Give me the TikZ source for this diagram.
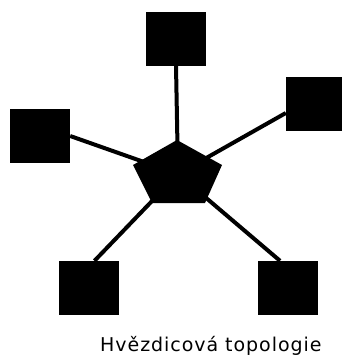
\documentclass[tikz,border=0pt]{standalone}
\usepackage{fontspec}
\setsansfont{DejaVu Sans}
\begin{document}
\begin{tikzpicture}[
    x=1pt, y=-1pt,
    station/.style={fill=black, minimum width=60pt, minimum height=54pt, inner sep=0pt},
    link/.style={line width=4pt},
    every node/.style={font=\sffamily}
]
\useasboundingbox (0,0) rectangle (341,356);

% Hub
\coordinate (hub) at (178,174);

% Stations
\node[station] (top) at (176,38.5) {};
\node[station] (east) at (316,104) {};
\node[station] (west) at (40,136) {};
\node[station] (sw) at (88.5,288) {};
\node[station] (se) at (288,288) {};

% Links
\draw[link] (hub) -- (top.south);
\draw[link] (hub) -- ([yshift=-9pt]east.west);
\draw[link] (hub) -- (west.east);
\draw[link] (hub) -- ([xshift=6pt]sw.north);
\draw[link] (hub) -- ([xshift=-8pt]se.north);

% Pentagon
\fill (177,140) -- (222,165) -- (205,203) -- (152,203) -- (133,165) -- cycle;

% Caption
\node[font=\sffamily\fontsize{19}{22}\selectfont\addfontfeatures{LetterSpace=5}, anchor=base west, inner sep=0pt] (caption) at (100,351) {Hvězdicová topologie};

\end{tikzpicture}
\end{document}
